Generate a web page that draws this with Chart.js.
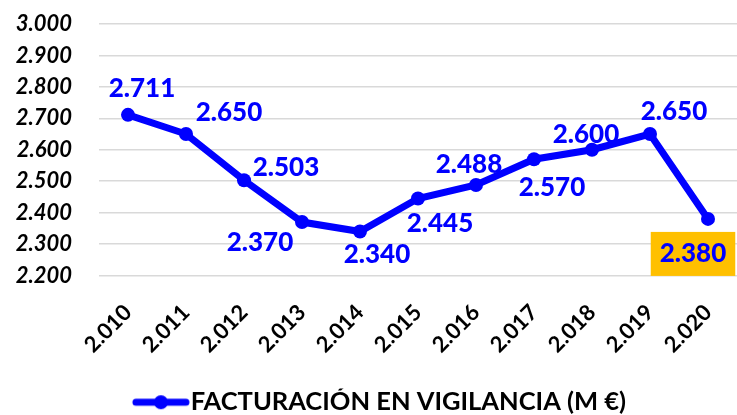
<!DOCTYPE html>
<html>
<head>
<meta charset="utf-8">
<script src="https://cdn.jsdelivr.net/npm/chart.js@4"></script>
<style>
  html, body { margin: 0; padding: 0; background: #fff; }
  #wrap { width: 737px; height: 415px; }
</style>
</head>
<body>
<div id="wrap"><canvas id="chart" width="737" height="415"></canvas></div>
<script>
// Data
const years = ["2.010", "2.011", "2.012", "2.013", "2.014", "2.015", "2.016", "2.017", "2.018", "2.019", "2.020"];
const facturacion = [2711, 2650, 2503, 2370, 2340, 2445, 2488, 2570, 2600, 2650, 2380];
const seriesName = "FACTURACIÓN EN VIGILANCIA (M €)";

// label offsets from each point (dx, dy)
const labelOffsets = [[14, -26], [43, -21], [42, -13], [-42, 21], [17, 23], [22, 25], [-7, -20], [18, 28], [-6, -15], [24, -22], [-15, 35]];

const BLUE = "#0000FF";
const fmt = v => String(v).replace(/\B(?=(\d{3})+(?!\d))/g, ".");

// legend symbol: line with a dot (drawn on the right part so it sits next to the text)
const legendIcon = document.createElement("canvas");
legendIcon.width = 90;
legendIcon.height = 16;
const ic = legendIcon.getContext("2d");
ic.strokeStyle = BLUE;
ic.lineWidth = 7;
ic.lineCap = "round";
ic.beginPath();
ic.moveTo(30, 8);
ic.lineTo(80, 8);
ic.stroke();
ic.fillStyle = BLUE;
ic.beginPath();
ic.arc(55, 8, 7, 0, Math.PI * 2);
ic.fill();

const valueLabels = {
  id: "valueLabels",
  afterDatasetsDraw(chart) {
    const ctx = chart.ctx;
    const meta = chart.getDatasetMeta(0);
    ctx.save();
    ctx.font = "900 26px Lato";
    ctx.textAlign = "center";
    ctx.textBaseline = "middle";
    meta.data.forEach((pt, i) => {
      const x = pt.x + labelOffsets[i][0];
      const y = pt.y + labelOffsets[i][1];
      const txt = fmt(facturacion[i]);
      if (i === facturacion.length - 1) {
        const w = ctx.measureText(txt).width + 18;
        ctx.fillStyle = "#FFC000";
        ctx.fillRect(x - w / 2, y - 22, w, 44);
      }
      ctx.fillStyle = BLUE;
      ctx.fillText(txt, x, y);
    });
    ctx.restore();
  }
};

new Chart(document.getElementById("chart"), {
  type: "line",
  data: {
    labels: years,
    datasets: [{
      label: seriesName,
      data: facturacion,
      borderColor: BLUE,
      backgroundColor: BLUE,
      borderWidth: 7,
      pointRadius: 7,
      pointHoverRadius: 7,
      pointBackgroundColor: BLUE,
      pointBorderWidth: 0,
      tension: 0
    }]
  },
  options: {
    responsive: false,
    animation: false,
    layout: { autoPadding: false, padding: { top: 24, left: 13, right: 0, bottom: -10 } },
    plugins: {
      tooltip: { enabled: false },
      legend: {
        position: "bottom",
        labels: {
          usePointStyle: true,
          pointStyle: legendIcon,
          pointStyleWidth: 54,
          color: "#000",
          font: { family: "Lato", size: 25.5, weight: "bold", lineHeight: 1 },
          padding: 1
        }
      }
    },
    scales: {
      x: {
        offset: true,
        grid: { display: false },
        border: { display: false },
        ticks: {
          color: "#000",
          font: { family: "Lato", size: 22, weight: "bold" },
          maxRotation: 45,
          minRotation: 45,
          padding: 16
        },
        afterFit(s) {
          s.height = 113;
          s.paddingLeft = 0;
          s.paddingRight = 0;
        }
      },
      y: {
        min: 2200,
        max: 3000,
        grid: { color: "#D9D9D9", lineWidth: 1.5, drawTicks: false },
        border: { display: false },
        ticks: {
          stepSize: 100,
          color: "#000",
          padding: 27,
          font: { family: "Lato", size: 22, weight: "bold", style: "italic" },
          callback: v => fmt(v)
        },
        afterFit(s) {
          s.width = 86;
          s.paddingTop = 10;
          s.paddingBottom = 10;
        }
      }
    }
  },
  plugins: [valueLabels]
});
</script>
</body>
</html>
